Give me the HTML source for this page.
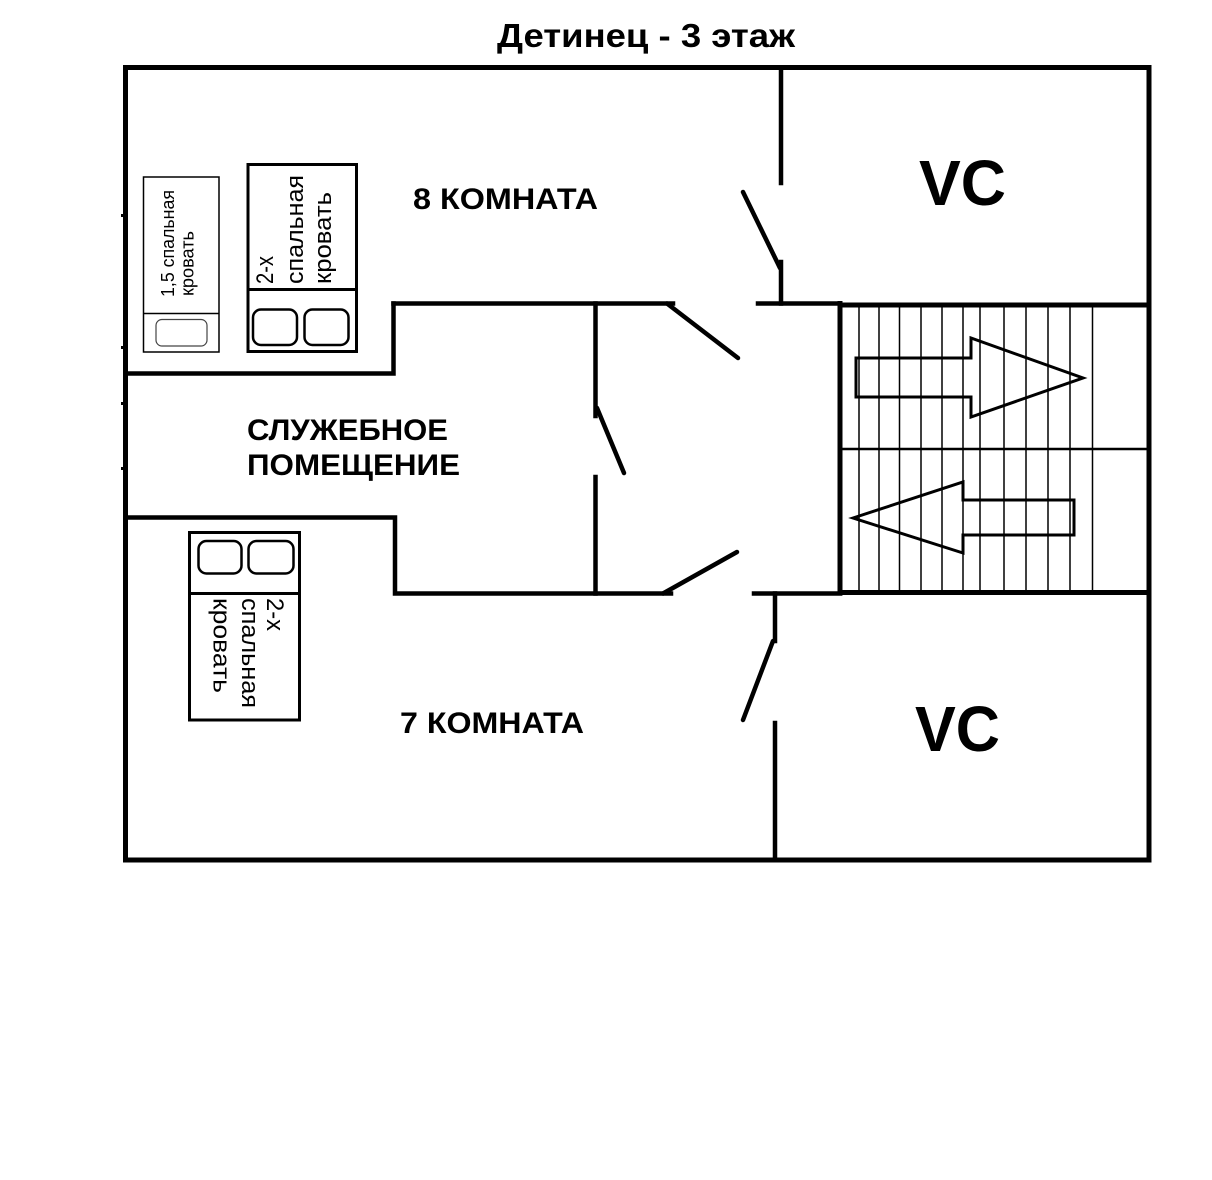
<!DOCTYPE html>
<html>
<head>
<meta charset="utf-8">
<style>
  html, body { margin: 0; padding: 0; background: #fff; }
  svg { display: block; }
  text { font-family: "Liberation Sans", Arial, sans-serif; fill: #000; }
</style>
</head>
<body>
<svg width="1212" height="1180" viewBox="0 0 1212 1180" xmlns="http://www.w3.org/2000/svg">
  <rect x="0" y="0" width="1212" height="1180" fill="#fff"/>

  <!-- Title -->
  <text x="497" y="47" font-size="33" font-weight="bold" textLength="298" lengthAdjust="spacingAndGlyphs">Детинец - 3 этаж</text>

  <!-- Outer walls -->
  <g stroke="#000" stroke-width="5" fill="none" stroke-linecap="square">
    <path d="M125.5,67.5 H1149"/>
    <path d="M125.5,67.5 V860"/>
    <path d="M1149,67.5 V860"/>
    <path d="M125.5,860 H1149"/>
  </g>
  <!-- tiny ticks on left wall -->
  <g fill="#000">
    <rect x="121" y="214" width="3" height="3"/>
    <rect x="121" y="346" width="3" height="3"/>
    <rect x="121" y="402" width="3" height="3"/>
    <rect x="121" y="467" width="3" height="3"/>
  </g>

  <!-- Interior walls -->
  <g stroke="#000" stroke-width="4.5" fill="none" stroke-linecap="square">
    <path d="M781,67.5 V183"/>
    <path d="M781,262 V303.5"/>
    <path d="M758,303.5 H840"/>
    <path d="M393.5,303.5 H673"/>
    <path d="M393.5,303.5 V373.5 H125.5"/>
    <path d="M125.5,517.5 H395 V593.5 H671"/>
    <path d="M595.5,303.5 V416"/>
    <path d="M595.5,477 V593.5"/>
    <path d="M754,593.5 H840"/>
    <path d="M775,593.5 V641"/>
    <path d="M775,723 V860"/>
  </g>
  <!-- Stair walls -->
  <g stroke="#000" fill="none" stroke-linecap="square">
    <path d="M840,303.5 V593" stroke-width="5"/>
    <path d="M840,305 H1149" stroke-width="5"/>
    <path d="M840,592.5 H1149" stroke-width="5"/>
    <path d="M840,449 H1149" stroke-width="2.5"/>
  </g>
  <!-- Stair treads -->
  <g stroke="#000" stroke-width="1.5">
    <line x1="859" y1="307" x2="859" y2="590"/>
    <line x1="879" y1="307" x2="879" y2="590"/>
    <line x1="899.5" y1="307" x2="899.5" y2="590"/>
    <line x1="921" y1="307" x2="921" y2="590"/>
    <line x1="942" y1="307" x2="942" y2="590"/>
    <line x1="963" y1="307" x2="963" y2="590"/>
    <line x1="980" y1="307" x2="980" y2="590"/>
    <line x1="1004" y1="307" x2="1004" y2="590"/>
    <line x1="1026" y1="307" x2="1026" y2="590"/>
    <line x1="1048" y1="307" x2="1048" y2="590"/>
    <line x1="1070" y1="307" x2="1070" y2="590"/>
    <line x1="1092.5" y1="307" x2="1092.5" y2="590"/>
  </g>
  <!-- Stair arrows -->
  <g stroke="#000" stroke-width="3" fill="none" stroke-linejoin="miter">
    <polygon points="856,358 971,358 971,338 1083,378 971,417 971,397 856,397"/>
    <polygon points="853,518 963,482 963,500 1074,500 1074,535 963,535 963,553"/>
  </g>

  <!-- Door swings -->
  <g stroke="#000" stroke-width="4.5" stroke-linecap="round">
    <line x1="743" y1="192" x2="780" y2="268"/>
    <line x1="667" y1="303.5" x2="738" y2="358"/>
    <line x1="597" y1="408" x2="624" y2="473"/>
    <line x1="663" y1="593.5" x2="737" y2="552"/>
    <line x1="773" y1="641" x2="743" y2="720"/>
  </g>

  <!-- 1.5 bed -->
  <g fill="none" stroke="#000">
    <rect x="143.5" y="177" width="75.5" height="175" stroke-width="1.5"/>
    <line x1="143.5" y1="313.5" x2="219" y2="313.5" stroke-width="1.5"/>
    <rect x="156" y="319.5" width="51" height="26.5" rx="6" stroke="#444" stroke-width="1.2"/>
  </g>
  <text transform="rotate(-90 174 297)" x="174" y="297" font-size="18" textLength="107" lengthAdjust="spacingAndGlyphs">1,5 спальная</text>
  <text transform="rotate(-90 193.5 296)" x="193.5" y="296" font-size="18" textLength="65" lengthAdjust="spacingAndGlyphs">кровать</text>

  <!-- Upper 2-x bed -->
  <g fill="none" stroke="#000">
    <rect x="248" y="164.5" width="108.5" height="187" stroke-width="3"/>
    <line x1="248" y1="289.5" x2="356.5" y2="289.5" stroke-width="3"/>
    <rect x="253" y="309.5" width="44" height="35.5" rx="8" stroke-width="2.5"/>
    <rect x="304.5" y="309.5" width="44" height="35.5" rx="8" stroke-width="2.5"/>
  </g>
  <text transform="rotate(-90 273 284)" x="273" y="284" font-size="24" textLength="28" lengthAdjust="spacingAndGlyphs">2-х</text>
  <text transform="rotate(-90 303 284)" x="303" y="284" font-size="24" textLength="109" lengthAdjust="spacingAndGlyphs">спальная</text>
  <text transform="rotate(-90 331 284)" x="331" y="284" font-size="24" textLength="92" lengthAdjust="spacingAndGlyphs">кровать</text>

  <!-- Lower 2-x bed -->
  <g fill="none" stroke="#000">
    <rect x="189.5" y="532.5" width="110" height="187.5" stroke-width="3"/>
    <line x1="189.5" y1="593.5" x2="299.5" y2="593.5" stroke-width="3"/>
    <rect x="198.5" y="541" width="43" height="32.5" rx="8" stroke-width="2.5"/>
    <rect x="248.5" y="541" width="45" height="32.5" rx="8" stroke-width="2.5"/>
  </g>
  <text transform="rotate(90 267 598)" x="267" y="598" font-size="24" textLength="33" lengthAdjust="spacingAndGlyphs">2-х</text>
  <text transform="rotate(90 242 598)" x="242" y="598" font-size="24" textLength="110" lengthAdjust="spacingAndGlyphs">спальная</text>
  <text transform="rotate(90 213.5 598)" x="213.5" y="598" font-size="24" textLength="95" lengthAdjust="spacingAndGlyphs">кровать</text>

  <!-- Room labels -->
  <g font-weight="bold" font-size="30">
    <text x="413" y="209" textLength="185" lengthAdjust="spacingAndGlyphs">8 КОМНАТА</text>
    <text x="247" y="440" textLength="201" lengthAdjust="spacingAndGlyphs">СЛУЖЕБНОЕ</text>
    <text x="247" y="475" textLength="213" lengthAdjust="spacingAndGlyphs">ПОМЕЩЕНИЕ</text>
    <text x="400" y="733" textLength="184" lengthAdjust="spacingAndGlyphs">7 КОМНАТА</text>
  </g>
  <g font-weight="bold" font-size="64">
    <text x="919" y="205" textLength="87" lengthAdjust="spacingAndGlyphs">VC</text>
    <text x="915" y="751" textLength="85" lengthAdjust="spacingAndGlyphs">VC</text>
  </g>
</svg>
</body>
</html>
